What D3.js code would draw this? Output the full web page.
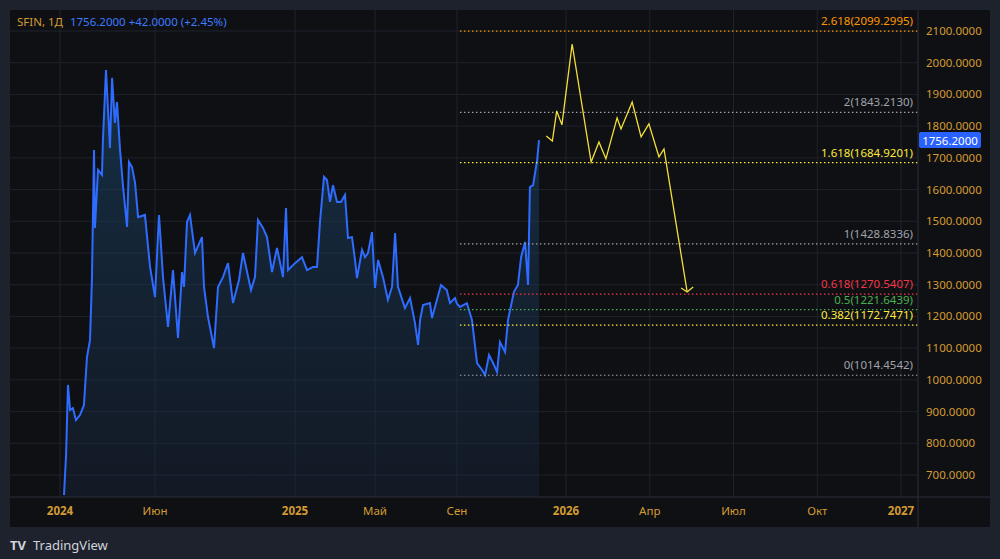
<!DOCTYPE html>
<html><head><meta charset="utf-8">
<script src="https://cdn.jsdelivr.net/npm/d3@7"></script>
<style>body{margin:0;background:#1e222d;}svg{display:block;font-family:"Noto Sans","DejaVu Sans",sans-serif;}</style>
</head><body><svg id="c" width="1000" height="559"></svg>
<script>
// time in months since Jan 2024
const priceT = [.21,.32,.42,.53,.68,.84,1.05,1.26,1.42,1.58,1.68,1.79,1.84,2.0,2.21,2.26,2.42,2.63,2.74,2.89,3.0,3.16,3.32,3.53,3.63,3.79,3.95,4.11,4.47,4.74,5.0,
5.2,5.4,5.65,5.9,6.15,6.35,6.45,6.6,6.75,7.0,7.35,7.45,7.65,7.95,8.15,8.4,8.65,8.9,9.2,9.4,9.8,10.0,10.15,10.4,10.6,10.85,11.1,11.4,11.55,11.65,12.0,
12.35,12.6,12.9,13.1,13.25,13.45,13.6,13.75,13.9,14.1,14.3,14.5,14.65,14.85,15.0,15.1,15.35,15.5,15.65,15.85,16.0,
16.15,16.4,16.63,16.83,16.98,17.12,17.46,17.71,17.95,18.1,18.2,18.34,18.68,18.78,19.02,19.22,19.5,19.66,19.9,20.0,
20.11,20.37,20.56,20.75,20.94,21.05,21.2,21.35,21.5,21.61,21.8,21.91,22.13,22.28,22.4,22.55,22.66,22.73,22.85,23.0,23.07];
const priceV = [637,763,984,905,911,873,889,920,1072,1126,1315,1725,1479,1662,1646,1756,1977,1731,1952,1810,1876,1725,1608,1482,1687,1671,1621,1513,1520,1356,1261,
1520,1324,1167,1346,1132,1340,1293,1498,1520,1400,1450,1293,1198,1100,1293,1324,1368,1242,1315,1400,1283,1324,1504,1479,1450,1340,1416,1324,1542,1346,1368,
1387,1346,1356,1356,1498,1640,1630,1561,1614,1561,1561,1583,1447,1450,1378,1321,1410,1387,1400,1466,1290,
1378,1321,1252,1293,1463,1293,1226,1258,1179,1110,1189,1236,1242,1195,1252,1299,1283,1242,1258,1240,
1230,1242,1189,1053,1031,1015,1078,1053,1025,1119,1088,1189,1277,1299,1387,1435,1299,1608,1614,1693,1756.2];
const projT = [23.32,23.53,23.68,23.86,24.22,24.9,25.18,25.43,25.83,25.97,26.37,26.69,26.97,27.33,27.51,28.34];
const projV = [1769,1753,1848,1804,2059,1687,1750,1697,1826,1791,1876,1766,1807,1703,1728,1277];
const fibLevels = ["2.618","2","1.618","1","0.618","0.5","0.382","0"];
const fibValues = [2099.2995,1843.2130,1684.9201,1428.8336,1270.5407,1221.6439,1172.7471,1014.4542];
const fibColors = ["#ff9800","#a0a3ab","#ffeb3b","#a0a3ab","#f23645","#4caf50","#ffeb3b","#a0a3ab"];
const tickT = [0,5,12,16,20,24,27,30,33,36];
const tickLabels = ["2024","Июн","2025","Май","Сен","2026","Апр","Июл","Окт","2027"];
const yTicks = [700,800,900,1000,1100,1200,1300,1400,1500,1600,1700,1800,1900,2000,2100];
const lastPrice = 1756.2;

const svg = d3.select("#c");
const L=10,R=918,T=10,B=497;
const x = d3.scaleLinear().domain([0,5,12,16,20,23.07,24,36]).range([60,155,295,375,457,539,566,901]);
const y = d3.scaleLinear().domain([700,2100]).range([475,31]);
svg.append("rect").attr("x",L).attr("y",T).attr("width",980).attr("height",517).attr("fill","#0f1014");
svg.append("defs").append("clipPath").attr("id","cp").append("rect").attr("x",L).attr("y",T).attr("width",R-L).attr("height",B-T);
const grad = svg.select("defs").append("linearGradient").attr("id","g").attr("x1",0).attr("x2",0).attr("y1",0).attr("y2",1);
grad.append("stop").attr("offset","0").attr("stop-color","#1a4a6e").attr("stop-opacity",0.55);
grad.append("stop").attr("offset","1").attr("stop-color","#1a2a44").attr("stop-opacity",0.35);
const g = svg.append("g").attr("clip-path","url(#cp)");
g.selectAll(".hg").data(yTicks).join("line").attr("x1",L).attr("x2",R).attr("y1",d=>y(d)).attr("y2",d=>y(d)).attr("stroke","#1f222a");
g.selectAll(".vg").data(tickT).join("line").attr("x1",d=>x(d)).attr("x2",d=>x(d)).attr("y1",T).attr("y2",B).attr("stroke","#1f222a");
const pts = priceT.map((t,i)=>[t,priceV[i]]);
g.append("path").datum(pts).attr("fill","url(#g)").attr("d",d3.area().x(d=>x(d[0])).y0(B).y1(d=>y(d[1])));
g.append("path").datum(pts).attr("fill","none").attr("stroke","#2e6bff").attr("stroke-width",2).attr("d",d3.line().x(d=>x(d[0])).y(d=>y(d[1])));
// fib
const fx0 = x(20.11);
fibValues.forEach((v,i)=>{
  g.append("line").attr("x1",fx0).attr("x2",R).attr("y1",y(v)).attr("y2",y(v)).attr("stroke",fibColors[i]).attr("stroke-dasharray","1.5,2.5").attr("stroke-width",1.2);
  svg.append("text").attr("x",913).attr("y",y(v)-6).attr("text-anchor","end").attr("fill",fibColors[i]).attr("font-size",11.5).text(fibLevels[i]+"("+v.toFixed(4)+")");
});
// projection
const pp = projT.map((t,i)=>[t,projV[i]]);
g.append("path").datum(pp).attr("fill","none").attr("stroke","#f5e03a").attr("stroke-width",1.3).attr("d",d3.line().x(d=>x(d[0])).y(d=>y(d[1])));
const ex=x(projT[projT.length-1]), ey=y(projV[projV.length-1]);
g.append("path").attr("d",`M${ex-6},${ey-4}L${ex},${ey}L${ex+6},${ey-5}`).attr("fill","none").attr("stroke","#f5e03a").attr("stroke-width",1.3);
// axes
svg.append("line").attr("x1",R).attr("x2",R).attr("y1",T).attr("y2",527).attr("stroke","#2a2e39");
svg.append("line").attr("x1",L).attr("x2",990).attr("y1",B).attr("y2",B).attr("stroke","#2a2e39");
svg.selectAll(".yl").data(yTicks).join("text").attr("x",926).attr("y",d=>y(d)+4).attr("fill","#d39b32").attr("font-size",11.5).text(d=>d.toFixed(4));
svg.selectAll(".xl").data(tickT).join("text").attr("x",d=>x(d)).attr("y",515).attr("text-anchor","middle").attr("fill","#d39b32").attr("font-size",11.5).attr("font-weight",d=>[0,12,24,36].includes(d)?"bold":"normal").text((d,i)=>tickLabels[i]);
svg.append("rect").attr("x",919).attr("y",y(lastPrice)-8).attr("width",62).attr("height",16).attr("rx",2).attr("fill","#2962ff");
svg.append("text").attr("x",950).attr("y",y(lastPrice)+4.5).attr("text-anchor","middle").attr("fill","#fff").attr("font-size",11.5).text(lastPrice.toFixed(4));
const tt = svg.append("text").attr("x",17).attr("y",26).attr("font-size",11.5);
tt.append("tspan").attr("fill","#d39b32").text("SFIN, 1Д  ");
tt.append("tspan").attr("fill","#3d7bff").attr("dx",4).text("1756.2000  +42.0000 (+2.45%)");
svg.append("text").attr("x",33).attr("y",550).attr("fill","#d1d4dc").attr("font-size",13).text("TradingView");
svg.append("text").attr("x",10).attr("y",550).attr("fill","#d1d4dc").attr("font-size",13).attr("font-weight","bold").text("TV");
</script></body></html>
